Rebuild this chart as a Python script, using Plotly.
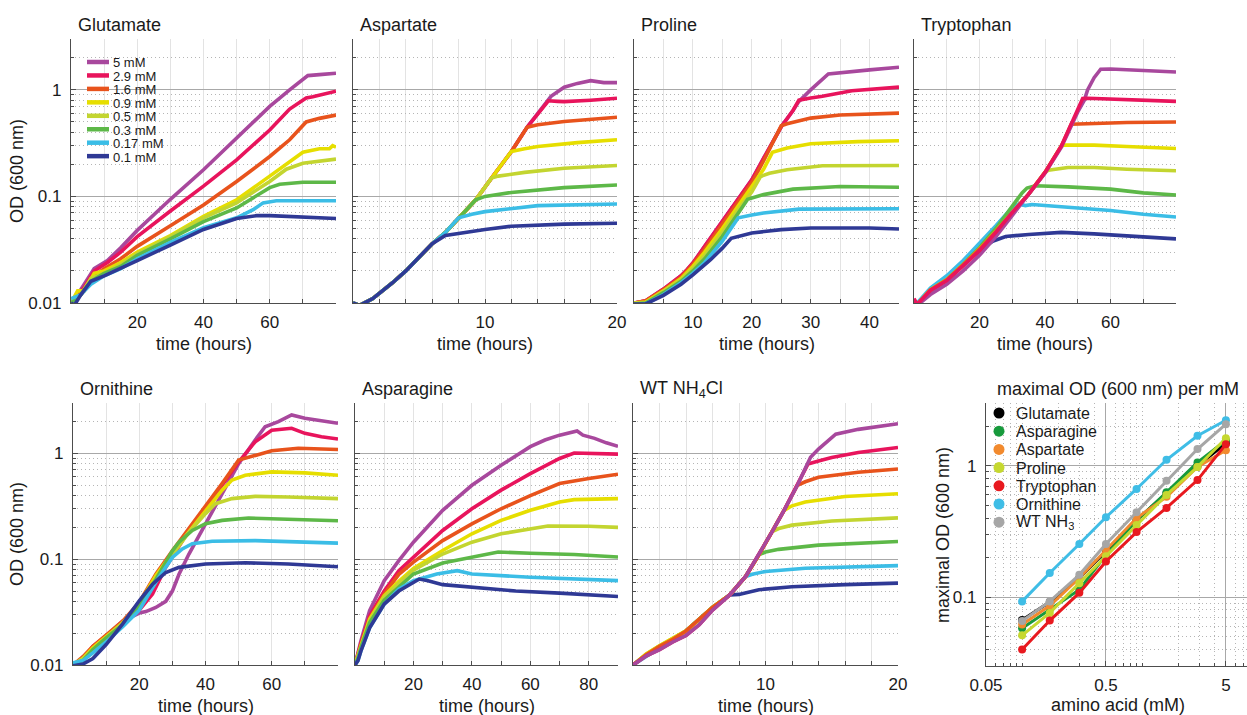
import math
import plotly.graph_objects as go

W, H = 1247, 715
FONT = "Liberation Sans, Arial, Helvetica, sans-serif"

# ---------------------------------------------------------------------------
# Data
# ---------------------------------------------------------------------------
CONCENTRATIONS = ["5 mM", "2.9 mM", "1.6 mM", "0.9 mM", "0.5 mM", "0.3 mM", "0.17 mM", "0.1 mM"]
CONC_COLORS = ["#a8489d", "#e8145c", "#e8531c", "#e6de00", "#c3d530", "#5db848", "#3bbde6", "#2f3995"]

# growth curves: (time [h], OD600) for each starting concentration
GLUTAMATE = {
    "5 mM": [(0, 0.010), (2, 0.012), (4, 0.015), (7, 0.021), (11, 0.025), (15, 0.033), (20, 0.048), (30, 0.094),
             (40, 0.178), (50, 0.35), (60, 0.70), (66, 1.0), (71.5, 1.36), (75, 1.39), (80, 1.43)],
    "2.9 mM": [(0, 0.010), (2, 0.012), (4, 0.014), (7, 0.020), (11, 0.024), (15, 0.030), (20, 0.042), (30, 0.073),
               (40, 0.125), (50, 0.22), (60, 0.42), (66, 0.66), (71, 0.84), (73, 0.86), (76, 0.90), (80, 0.97)],
    "1.6 mM": [(0, 0.010), (3, 0.012), (6, 0.017), (10, 0.021), (15, 0.026), (20, 0.034), (30, 0.053), (40, 0.083),
               (50, 0.138), (60, 0.237), (66, 0.34), (71, 0.50), (75, 0.54), (80, 0.58)],
    "0.9 mM": [(0, 0.010), (2, 0.013), (4, 0.013), (7, 0.019), (10, 0.020), (15, 0.024), (20, 0.030), (30, 0.043),
               (40, 0.065), (50, 0.093), (60, 0.155), (65, 0.20), (70, 0.26), (75, 0.28), (78, 0.28), (79, 0.30),
               (80, 0.29)],
    "0.5 mM": [(0, 0.010), (3, 0.012), (6, 0.017), (10, 0.019), (15, 0.023), (20, 0.029), (30, 0.042), (40, 0.063),
               (50, 0.087), (60, 0.138), (65, 0.18), (70, 0.205), (80, 0.224)],
    "0.3 mM": [(0, 0.010), (3, 0.012), (6, 0.016), (10, 0.019), (15, 0.022), (20, 0.028), (30, 0.040), (40, 0.058),
               (50, 0.078), (55, 0.097), (60, 0.121), (63, 0.130), (70, 0.136), (80, 0.136)],
    "0.17 mM": [(0, 0.011), (3, 0.012), (6, 0.015), (10, 0.018), (15, 0.021), (20, 0.026), (30, 0.037), (40, 0.051),
                (50, 0.063), (55, 0.075), (58, 0.087), (62, 0.091), (80, 0.091)],
    "0.1 mM": [(0, 0.010), (1, 0.0095), (3, 0.012), (6, 0.016), (10, 0.018), (15, 0.021), (20, 0.025), (30, 0.035),
               (40, 0.049), (50, 0.062), (56, 0.066), (60, 0.066), (70, 0.064), (80, 0.062)],
}

ASPARTATE = {
    "5 mM": [(0, 0.010), (0.5, 0.0095), (1.5, 0.011), (3, 0.0155), (4, 0.020), (5, 0.027), (6, 0.036), (7, 0.046),
             (8, 0.063), (9.3, 0.093), (10.5, 0.149), (12, 0.264), (13.2, 0.447), (14.8, 0.79), (15, 0.87),
             (16, 1.06), (17, 1.15), (18, 1.22), (19, 1.17), (20, 1.17)],
    "2.9 mM": [(0, 0.010), (0.5, 0.0095), (1.5, 0.011), (3, 0.0155), (4, 0.020), (5, 0.027), (6, 0.036), (7, 0.046),
               (8, 0.063), (9.3, 0.093), (10.5, 0.149), (12, 0.264), (13.2, 0.447), (14.8, 0.79), (15.5, 0.78),
               (16, 0.775), (18, 0.80), (20, 0.835)],
    "1.6 mM": [(0, 0.010), (0.5, 0.0095), (1.5, 0.011), (3, 0.0155), (4, 0.020), (5, 0.027), (6, 0.036), (7, 0.046),
               (8, 0.063), (9.3, 0.093), (10.5, 0.149), (12, 0.264), (13.2, 0.447), (14, 0.47), (16, 0.505),
               (18, 0.53), (20, 0.554)],
    "0.9 mM": [(0, 0.010), (0.5, 0.0095), (1.5, 0.011), (3, 0.0155), (4, 0.020), (5, 0.027), (6, 0.036), (7, 0.046),
               (8, 0.063), (9.3, 0.093), (10.5, 0.149), (12, 0.264), (13, 0.28), (14, 0.294), (17, 0.32), (20, 0.34)],
    "0.5 mM": [(0, 0.010), (0.5, 0.0095), (1.5, 0.011), (3, 0.0155), (4, 0.020), (5, 0.027), (6, 0.036), (7, 0.046),
               (8, 0.063), (9.3, 0.093), (10.5, 0.149), (11, 0.155), (13, 0.168), (16, 0.184), (20, 0.195)],
    "0.3 mM": [(0, 0.010), (0.5, 0.0095), (1.5, 0.011), (3, 0.0155), (4, 0.020), (5, 0.027), (6, 0.036), (7, 0.046),
               (8, 0.063), (9.3, 0.093), (10, 0.100), (12, 0.109), (16, 0.121), (20, 0.128)],
    "0.17 mM": [(0, 0.010), (0.5, 0.0095), (1.5, 0.011), (3, 0.0155), (4, 0.020), (5, 0.027), (6, 0.036), (7, 0.046),
                (8, 0.063), (9, 0.068), (10, 0.072), (14, 0.082), (20, 0.085)],
    "0.1 mM": [(0, 0.010), (0.5, 0.0095), (1.5, 0.011), (3, 0.0155), (4, 0.020), (5, 0.027), (6, 0.036), (7, 0.043),
               (8, 0.045), (10, 0.049), (12, 0.0525), (16, 0.055), (20, 0.056)],
}

PROLINE = {
    "5 mM": [(0, 0.010), (2, 0.0105), (5, 0.0135), (8, 0.018), (9, 0.0205), (10, 0.0237), (12, 0.034), (15, 0.058),
             (18, 0.100), (20, 0.143), (22, 0.228), (25, 0.45), (27, 0.64), (28, 0.78), (30, 1.0), (33, 1.41),
             (40, 1.54), (45, 1.63)],
    "2.9 mM": [(0, 0.010), (2, 0.0105), (5, 0.0135), (8, 0.018), (9, 0.0205), (10, 0.0237), (12, 0.034), (15, 0.058),
               (18, 0.100), (20, 0.143), (22, 0.228), (25, 0.45), (27, 0.64), (28, 0.80), (30, 0.84), (32, 0.87),
               (37, 0.98), (45, 1.06)],
    "1.6 mM": [(0, 0.010), (2, 0.0105), (5, 0.0133), (8, 0.0175), (10, 0.023), (12, 0.032), (15, 0.055), (18, 0.095),
               (20, 0.135), (22, 0.215), (25, 0.46), (26, 0.48), (30, 0.543), (35, 0.58), (45, 0.605)],
    "0.9 mM": [(0, 0.010), (2, 0.0102), (5, 0.013), (8, 0.017), (10, 0.022), (12, 0.030), (15, 0.050), (18, 0.085),
               (20, 0.124), (22, 0.18), (23.5, 0.259), (26, 0.285), (30, 0.312), (38, 0.327), (45, 0.333)],
    "0.5 mM": [(0, 0.010), (2, 0.010), (5, 0.0128), (8, 0.0165), (10, 0.021), (12, 0.028), (15, 0.046), (18, 0.080),
               (20, 0.110), (21.5, 0.154), (23, 0.165), (26, 0.178), (32, 0.194), (45, 0.195)],
    "0.3 mM": [(0, 0.0098), (2, 0.010), (5, 0.0125), (8, 0.016), (10, 0.020), (12, 0.026), (15, 0.042), (17, 0.062),
               (19.3, 0.094), (22, 0.104), (27, 0.117), (35, 0.124), (45, 0.122)],
    "0.17 mM": [(0, 0.0095), (2, 0.0098), (5, 0.012), (8, 0.0155), (10, 0.019), (12, 0.024), (15, 0.038),
                (17.7, 0.063), (20, 0.067), (22, 0.070), (28, 0.076), (45, 0.0765)],
    "0.1 mM": [(0, 0.0098), (2, 0.0098), (5, 0.0118), (8, 0.015), (10, 0.0184), (13, 0.0255), (15, 0.0327),
               (16.5, 0.0405), (20, 0.0454), (25, 0.0488), (30, 0.0505), (40, 0.0505), (45, 0.0495)],
}

TRYPTOPHAN = {
    "5 mM": [(0, 0.0105), (1, 0.0095), (5, 0.012), (10, 0.015), (15, 0.020), (20, 0.028), (25, 0.042), (30, 0.066),
             (35, 0.102), (40, 0.165), (45, 0.29), (48, 0.46), (50, 0.62), (52, 0.80), (53, 1.0), (55, 1.3),
             (57, 1.56), (60, 1.57), (70, 1.53), (80, 1.47)],
    "2.9 mM": [(0, 0.011), (1, 0.0097), (5, 0.0131), (10, 0.0162), (15, 0.0223), (20, 0.031), (25, 0.046),
               (30, 0.0706), (35, 0.105), (40, 0.168), (45, 0.298), (48, 0.476), (50, 0.659), (51.5, 0.83),
               (53, 0.835), (60, 0.82), (70, 0.80), (80, 0.78)],
    "1.6 mM": [(0, 0.0105), (1, 0.0097), (5, 0.0133), (10, 0.0165), (15, 0.0228), (20, 0.032), (25, 0.047),
               (30, 0.071), (35, 0.105), (40, 0.168), (45, 0.298), (48, 0.476), (50, 0.478), (55, 0.478),
               (65, 0.494), (80, 0.50)],
    "0.9 mM": [(0, 0.0105), (1, 0.0097), (5, 0.0133), (10, 0.0165), (15, 0.0228), (20, 0.032), (25, 0.047),
               (30, 0.071), (35, 0.105), (40, 0.168), (45, 0.298), (46, 0.303), (55, 0.303), (65, 0.294),
               (80, 0.282)],
    "0.5 mM": [(0, 0.0105), (1, 0.0097), (5, 0.0133), (10, 0.0165), (15, 0.0228), (20, 0.032), (25, 0.047),
               (30, 0.071), (35, 0.105), (40, 0.168), (41, 0.176), (47, 0.187), (55, 0.187), (65, 0.18),
               (80, 0.174)],
    "0.3 mM": [(0, 0.010), (1, 0.0097), (5, 0.013), (10, 0.0165), (15, 0.023), (20, 0.033), (25, 0.050), (30, 0.080),
               (33, 0.108), (34.5, 0.12), (37, 0.126), (47, 0.123), (60, 0.117), (70, 0.108), (80, 0.103)],
    "0.17 mM": [(0, 0.0105), (1, 0.010), (5, 0.0138), (10, 0.018), (15, 0.025), (20, 0.036), (25, 0.053),
                (30, 0.079), (32, 0.085), (34, 0.082), (36, 0.084), (38, 0.083), (48, 0.079), (60, 0.0737),
                (70, 0.068), (80, 0.064)],
    "0.1 mM": [(0, 0.010), (1, 0.0095), (5, 0.013), (10, 0.0165), (15, 0.023), (20, 0.031), (24, 0.038), (28, 0.042),
               (35, 0.044), (45, 0.046), (55, 0.0445), (70, 0.042), (80, 0.040)],
}

ORNITHINE = {
    "5 mM": [(0, 0.010), (3, 0.0115), (6, 0.0145), (10, 0.019), (15, 0.026), (20, 0.031), (22, 0.032), (25, 0.035),
             (28, 0.040), (30, 0.050), (32, 0.072), (35, 0.112), (40, 0.217), (45, 0.417), (50, 0.80), (55, 1.34),
             (58, 1.79), (62, 2.0), (66, 2.31), (70, 2.15), (75, 2.03), (80, 1.93)],
    "2.9 mM": [(0, 0.010), (3, 0.0115), (6, 0.015), (10, 0.019), (15, 0.025), (20, 0.033), (24, 0.047), (28, 0.084),
               (35, 0.187), (40, 0.30), (45, 0.50), (50, 0.83), (55, 1.29), (60, 1.66), (66, 1.73), (70, 1.55),
               (75, 1.44), (80, 1.37)],
    "1.6 mM": [(0, 0.010), (3, 0.012), (6, 0.015), (10, 0.019), (15, 0.026), (20, 0.039), (25, 0.072), (30, 0.12),
               (35, 0.194), (40, 0.312), (45, 0.519), (50, 0.865), (52, 0.90), (60, 1.06), (68, 1.12), (80, 1.09)],
    "0.9 mM": [(0, 0.010), (3, 0.0115), (6, 0.0145), (10, 0.0185), (15, 0.025), (20, 0.038), (25, 0.070), (30, 0.115),
               (35, 0.18), (40, 0.28), (45, 0.45), (48, 0.56), (52, 0.623), (60, 0.67), (70, 0.655), (80, 0.623)],
    "0.5 mM": [(0, 0.010), (3, 0.0115), (6, 0.014), (10, 0.018), (15, 0.025), (20, 0.037), (25, 0.066), (30, 0.11),
               (35, 0.18), (40, 0.27), (43, 0.335), (48, 0.374), (55, 0.393), (65, 0.387), (80, 0.374)],
    "0.3 mM": [(0, 0.010), (3, 0.011), (6, 0.014), (10, 0.018), (15, 0.024), (20, 0.036), (25, 0.064), (30, 0.12),
               (32, 0.145), (36, 0.187), (40, 0.217), (45, 0.233), (53, 0.245), (65, 0.238), (80, 0.231)],
    "0.17 mM": [(0, 0.0105), (3, 0.011), (6, 0.013), (10, 0.0165), (15, 0.023), (20, 0.033), (26, 0.068),
                (30, 0.104), (33, 0.125), (36, 0.14), (42, 0.148), (55, 0.15), (80, 0.142)],
    "0.1 mM": [(0, 0.0098), (3, 0.0102), (6, 0.0115), (10, 0.0156), (15, 0.0245), (20, 0.0405), (24, 0.058),
               (28, 0.075), (32, 0.0838), (40, 0.090), (52, 0.0925), (65, 0.090), (80, 0.085)],
}

ASPARAGINE = {
    "5 mM": [(0, 0.010), (1, 0.013), (2, 0.0168), (5, 0.0327), (10, 0.0627), (15, 0.097), (20, 0.145), (30, 0.29),
             (40, 0.50), (50, 0.775), (60, 1.16), (65, 1.34), (70, 1.49), (76, 1.63), (78, 1.49), (82, 1.39),
             (86, 1.26), (90, 1.17)],
    "2.9 mM": [(0, 0.010), (1, 0.0125), (2, 0.016), (5, 0.029), (10, 0.050), (15, 0.078), (20, 0.105), (30, 0.187),
               (40, 0.30), (50, 0.45), (60, 0.645), (70, 0.897), (75, 1.01), (80, 1.0), (90, 0.985)],
    "1.6 mM": [(0, 0.010), (1, 0.012), (2, 0.0155), (5, 0.0275), (10, 0.047), (15, 0.072), (20, 0.094), (30, 0.15),
               (40, 0.216), (50, 0.30), (60, 0.40), (70, 0.519), (80, 0.579), (90, 0.636)],
    "0.9 mM": [(0, 0.010), (1, 0.012), (2, 0.015), (5, 0.027), (10, 0.045), (15, 0.062), (20, 0.082), (30, 0.121),
               (40, 0.174), (50, 0.233), (60, 0.29), (70, 0.347), (75, 0.366), (90, 0.374)],
    "0.5 mM": [(0, 0.010), (1, 0.012), (2, 0.015), (5, 0.026), (10, 0.044), (20, 0.079), (30, 0.112), (40, 0.145),
               (50, 0.174), (60, 0.194), (66, 0.206), (80, 0.205), (90, 0.200)],
    "0.3 mM": [(0, 0.010), (1, 0.0115), (2, 0.0145), (5, 0.025), (10, 0.041), (20, 0.0725), (30, 0.092), (40, 0.105),
               (49, 0.117), (60, 0.114), (75, 0.111), (90, 0.105)],
    "0.17 mM": [(0, 0.010), (1, 0.011), (2, 0.0135), (5, 0.0225), (10, 0.0377), (15, 0.052), (20, 0.0627),
                (28, 0.0724), (35, 0.078), (40, 0.0724), (60, 0.0675), (90, 0.0627)],
    "0.1 mM": [(0, 0.010), (1, 0.011), (2, 0.0135), (5, 0.0225), (10, 0.0377), (15, 0.050), (22, 0.065), (25, 0.0627),
               (30, 0.0575), (40, 0.0544), (55, 0.050), (70, 0.0478), (90, 0.0444)],
}

WT_NH4CL = {
    "5 mM": [(0, 0.010), (1, 0.0122), (2, 0.014), (3, 0.0165), (4, 0.019), (5, 0.024), (6, 0.033), (7.3, 0.046),
             (8.5, 0.0687), (9.5, 0.11), (10.5, 0.182), (11.4, 0.29), (12.4, 0.498), (13.0, 0.72), (13.4, 0.92),
             (14, 1.10), (15.3, 1.52), (17, 1.69), (20, 1.91)],
    "2.9 mM": [(0, 0.010), (1, 0.0122), (2, 0.014), (3, 0.0165), (4, 0.019), (5, 0.024), (6, 0.033), (7.3, 0.046),
               (8.5, 0.0687), (9.5, 0.11), (10.5, 0.182), (11.4, 0.29), (12.4, 0.498), (13.2, 0.794), (14, 0.85),
               (15, 0.917), (17, 1.02), (20, 1.14)],
    "1.6 mM": [(0, 0.010), (1, 0.0125), (2, 0.015), (3, 0.0175), (4, 0.021), (5, 0.027), (6, 0.035), (7.3, 0.046),
               (8.5, 0.0687), (9.5, 0.11), (10.5, 0.182), (11.4, 0.29), (12.4, 0.498), (13, 0.54), (14, 0.596),
               (17, 0.664), (20, 0.713)],
    "0.9 mM": [(0, 0.010), (1, 0.0127), (2, 0.0152), (3, 0.0178), (4, 0.021), (5, 0.027), (6, 0.035), (7.3, 0.046),
               (8.5, 0.0687), (9.5, 0.11), (10.5, 0.182), (11.4, 0.29), (12, 0.32), (13, 0.347), (16, 0.392),
               (20, 0.416)],
    "0.5 mM": [(0, 0.010), (1, 0.0127), (2, 0.0152), (3, 0.0178), (4, 0.021), (5, 0.027), (6, 0.035), (7.3, 0.046),
               (8.5, 0.0687), (9.5, 0.11), (10.5, 0.182), (11, 0.195), (12, 0.21), (15, 0.23), (20, 0.246)],
    "0.3 mM": [(0, 0.010), (1, 0.0125), (2, 0.015), (3, 0.0175), (4, 0.021), (5, 0.027), (6, 0.035), (7.3, 0.046),
               (8.5, 0.0687), (9.5, 0.11), (10, 0.117), (11, 0.124), (14, 0.136), (20, 0.147)],
    "0.17 mM": [(0, 0.010), (1, 0.012), (2, 0.0145), (3, 0.0172), (4, 0.021), (5, 0.027), (6, 0.035), (7.3, 0.046),
                (8.5, 0.0687), (9, 0.072), (10, 0.0767), (13, 0.0823), (20, 0.087)],
    "0.1 mM": [(0, 0.010), (1, 0.0125), (2, 0.015), (3, 0.0175), (4, 0.021), (5, 0.027), (6, 0.035), (7.3, 0.046),
               (8, 0.0465), (9.5, 0.0515), (12, 0.055), (16, 0.0575), (20, 0.0595)],
}

# maximal OD reached for each starting concentration
AMINO_MM = [0.1, 0.17, 0.3, 0.5, 0.9, 1.6, 2.9, 5]
MAXOD_GLUTAMATE = [0.067, 0.092, 0.140, 0.225, 0.385, 0.62, 1.0, 1.48]
MAXOD_ASPARAGINE = [0.058, 0.081, 0.114, 0.21, 0.383, 0.628, 1.06, 1.56]
MAXOD_ASPARTATE = [0.062, 0.086, 0.140, 0.23, 0.40, 0.58, 0.98, 1.31]
MAXOD_PROLINE = [0.0513, 0.076, 0.128, 0.205, 0.355, 0.60, 0.98, 1.62]
MAXOD_TRYPTOPHAN = [0.040, 0.0665, 0.108, 0.187, 0.313, 0.478, 0.778, 1.46]
MAXOD_ORNITHINE = [0.093, 0.153, 0.254, 0.406, 0.666, 1.11, 1.69, 2.22]
MAXOD_WT_NH3 = [0.066, 0.093, 0.148, 0.254, 0.443, 0.77, 1.34, 2.07]

SUMMARY_NAMES = ["Glutamate", "Asparagine", "Aspartate", "Proline", "Tryptophan", "Ornithine", "WT NH<sub>3</sub>"]
SUMMARY_VALUES = [MAXOD_GLUTAMATE, MAXOD_ASPARAGINE, MAXOD_ASPARTATE, MAXOD_PROLINE, MAXOD_TRYPTOPHAN,
                  MAXOD_ORNITHINE, MAXOD_WT_NH3]
SUMMARY_COLORS = ["#000000", "#179a3c", "#f28a2e", "#c6d830", "#e8191f", "#3fbde6", "#a6a6a6"]

# ---------------------------------------------------------------------------
# Layout helpers (pixel boxes -> paper domains)
# ---------------------------------------------------------------------------
AXIS_COLOR = "#4d4d4d"
MAJOR_GRID = "#a8a8a8"
MINOR_GRID = "#b5b5b5"
MINOR_DASH = "1px,3px"
XGRID = "#e3e3e3"
TEXT_COLOR = "#1a1a1a"


def px_x(x):
    return x / W


def px_y(y):
    return 1 - y / H


OD_MINOR = [k * 10 ** e for e in (-2, -1) for k in range(2, 10)] + [2, 3]

# title, data, box (left, right, top, bottom), t max, grid step, labelled ticks, y labels, draw order
PANELS = [
    ("Glutamate", GLUTAMATE, (71, 336, 39, 303), 80, 10, [20, 40, 60], True, None),
    ("Aspartate", ASPARTATE, (353, 617, 39, 303), 20, 2, [10, 20], False, None),
    ("Proline", PROLINE, (634, 899, 39, 303), 45, 5, [10, 20, 30, 40], False, None),
    ("Tryptophan", TRYPTOPHAN, (914, 1176, 39, 303), 80, 10, [20, 40, 60], False, [7, 6, 5, 4, 3, 2, 0, 1]),
    ("Ornithine", ORNITHINE, (73, 338, 403, 665), 80, 10, [20, 40, 60], True, None),
    ("Asparagine", ASPARAGINE, (355, 618, 403, 665), 90, 10, [20, 40, 60, 80], False, None),
    ("WT NH<sub>4</sub>Cl", WT_NH4CL, (633, 898, 403, 665), 20, 2, [10, 20], False, [7, 6, 5, 4, 3, 2, 1, 0]),
]

fig = go.Figure()
layout = {}
annotations = []
shapes = []


def ann(text, x, y, size=18, xanchor="center", yanchor="middle", angle=0, height=None):
    a = dict(text=text, x=px_x(x), y=px_y(y), xref="paper", yref="paper", showarrow=False,
             xanchor=xanchor, yanchor=yanchor, textangle=angle,
             font=dict(family=FONT, size=size, color=TEXT_COLOR))
    if height is not None:
        a["height"] = height
        a["borderpad"] = 0
    annotations.append(a)


for i, (title, data, box, tmax, step, labelled, ylabels, order) in enumerate(PANELS, start=1):
    left, right, top, bottom = box
    xa = "xaxis" if i == 1 else f"xaxis{i}"
    ya = "yaxis" if i == 1 else f"yaxis{i}"
    xref = "x" if i == 1 else f"x{i}"
    yref = "y" if i == 1 else f"y{i}"

    grid_steps = [t for t in range(step, tmax + 1, step) if t not in labelled]
    layout[xa] = dict(
        domain=[px_x(left), px_x(right)], anchor=yref, range=[0, tmax], automargin=False,
        tickmode="array", tickvals=labelled, ticktext=[str(t) for t in labelled],
        showgrid=True, gridcolor=XGRID, gridwidth=1, zeroline=False,
        showline=True, linecolor=AXIS_COLOR, linewidth=1.3,
        ticks="inside", ticklen=4, tickcolor=AXIS_COLOR, ticklabelstandoff=3,
        tickfont=dict(family=FONT, size=17, color=TEXT_COLOR), fixedrange=True,
        minor=dict(tickvals=grid_steps, showgrid=True, gridcolor=XGRID, gridwidth=1,
                   ticks="inside", ticklen=4, tickcolor=AXIS_COLOR),
    )
    layout[ya] = dict(
        domain=[px_y(bottom), px_y(top)], anchor=xref, type="log", range=[-2, math.log10(3)], automargin=False,
        tickmode="array", tickvals=[0.01, 0.1, 1], ticktext=["0.01", "0.1", "1"], showticklabels=ylabels,
        showgrid=True, gridcolor=MAJOR_GRID, gridwidth=1, zeroline=False,
        showline=True, linecolor=AXIS_COLOR, linewidth=1.3,
        ticks="inside", ticklen=5, tickcolor=AXIS_COLOR, ticklabelstandoff=5,
        tickfont=dict(family=FONT, size=17, color=TEXT_COLOR),
        minor=dict(tickvals=OD_MINOR, showgrid=True, gridcolor=MINOR_GRID, griddash=MINOR_DASH, gridwidth=1,
                   ticks="inside", ticklen=3, tickcolor=AXIS_COLOR),
        fixedrange=True,
    )

    idx = order if order is not None else list(range(len(CONCENTRATIONS)))
    for k in idx:
        conc = CONCENTRATIONS[k]
        pts = data[conc]
        fig.add_trace(go.Scatter(
            x=[p[0] for p in pts], y=[p[1] for p in pts], mode="lines", name=conc,
            line=dict(color=CONC_COLORS[k], width=3.6), xaxis=xref, yaxis=yref, showlegend=False,
            hoverinfo="skip",
        ))

    ann(title, left + 5, top - 14, xanchor="left")
    ann("time (hours)", (left + right) / 2, bottom + 41)
    if ylabels:
        ann("OD (600 nm)", 17, (top + bottom) / 2, angle=-90)

# ---------------------------------------------------------------------------
# Summary panel: maximal OD vs amino acid concentration
# ---------------------------------------------------------------------------
S_LEFT, S_TOP, S_BOTTOM = 986, 403, 666
MM_MINOR = [0.06, 0.07, 0.08, 0.09, 0.1, 0.2, 0.3, 0.4, 0.6, 0.7, 0.8, 0.9, 1, 2, 3, 4, 6, 7]
OD8_MINOR = [0.04, 0.05, 0.06, 0.07, 0.08, 0.09, 0.2, 0.3, 0.4, 0.5, 0.6, 0.7, 0.8, 0.9, 2]

layout["xaxis8"] = dict(
    domain=[px_x(S_LEFT), 1.0], anchor="y8", type="log", range=[math.log10(0.05), 0.875], automargin=False,
    tickmode="array", tickvals=[0.05, 0.5, 5], ticktext=["0.05", "0.5", "5"],
    showgrid=True, gridcolor=MAJOR_GRID, gridwidth=1, zeroline=False,
    showline=True, linecolor=AXIS_COLOR, linewidth=1.3,
    ticks="inside", ticklen=5, tickcolor=AXIS_COLOR, ticklabelstandoff=3,
    tickfont=dict(family=FONT, size=17, color=TEXT_COLOR),
    minor=dict(tickvals=MM_MINOR, showgrid=True, gridcolor=MINOR_GRID, griddash=MINOR_DASH, gridwidth=1,
               ticks="inside", ticklen=3, tickcolor=AXIS_COLOR),
    fixedrange=True,
)
layout["yaxis8"] = dict(
    domain=[px_y(S_BOTTOM), px_y(S_TOP)], anchor="x8", type="log", range=[math.log10(0.03), math.log10(3)],
    automargin=False,
    tickmode="array", tickvals=[0.1, 1], ticktext=["0.1", "1"],
    showgrid=True, gridcolor=MAJOR_GRID, gridwidth=1, zeroline=False,
    showline=True, linecolor=AXIS_COLOR, linewidth=1.3,
    ticks="inside", ticklen=5, tickcolor=AXIS_COLOR, ticklabelstandoff=5,
    tickfont=dict(family=FONT, size=17, color=TEXT_COLOR),
    minor=dict(tickvals=OD8_MINOR, showgrid=True, gridcolor=MINOR_GRID, griddash=MINOR_DASH, gridwidth=1,
               ticks="inside", ticklen=3, tickcolor=AXIS_COLOR),
    fixedrange=True,
)

for name, vals, color in zip(SUMMARY_NAMES, SUMMARY_VALUES, SUMMARY_COLORS):
    fig.add_trace(go.Scatter(
        x=AMINO_MM, y=vals, mode="lines+markers", name=name,
        line=dict(color=color, width=3), marker=dict(color=color, size=8),
        xaxis="x8", yaxis="y8", showlegend=False, hoverinfo="skip",
    ))

ann("maximal OD (600 nm) per mM", 1118, 389)
ann("amino acid (mM)", 1118, 705)
ann("maximal OD (600 nm)", 943, 535, angle=-90)

# ---------------------------------------------------------------------------
# Legends
# ---------------------------------------------------------------------------
shapes.append(dict(type="rect", xref="paper", yref="paper", x0=px_x(76), x1=px_x(174), y0=px_y(166), y1=px_y(45),
                   fillcolor="white", line=dict(width=0), layer="between"))
for k, conc in enumerate(CONCENTRATIONS):
    cy = 62 + 13.45 * k
    shapes.append(dict(type="line", xref="paper", yref="paper", x0=px_x(87), x1=px_x(109), y0=px_y(cy), y1=px_y(cy),
                       line=dict(color=CONC_COLORS[k], width=4.5)))
    ann(conc, 112, cy + 0.5, size=13, xanchor="left", height=12)

shapes.append(dict(type="rect", xref="paper", yref="paper", x0=px_x(988), x1=px_x(1102), y0=px_y(530),
                   y1=px_y(404), fillcolor="white", line=dict(width=0), layer="between"))
for k, (name, color) in enumerate(zip(SUMMARY_NAMES, SUMMARY_COLORS)):
    cy = 413 + 18.2 * k
    r = 5.5
    shapes.append(dict(type="circle", xref="paper", yref="paper", x0=px_x(999 - r), x1=px_x(999 + r),
                       y0=px_y(cy + r), y1=px_y(cy - r), fillcolor=color, line=dict(width=0)))
    ann(name, 1015, cy + 0.5, size=16, xanchor="left", height=17)

fig.update_layout(
    width=W, height=H, margin=dict(l=0, r=0, t=0, b=0, autoexpand=False),
    paper_bgcolor="white", plot_bgcolor="white",
    font=dict(family=FONT, color=TEXT_COLOR),
    annotations=annotations, shapes=shapes, showlegend=False,
    **layout,
)

fig.write_html("out.html", config={"displayModeBar": False})
